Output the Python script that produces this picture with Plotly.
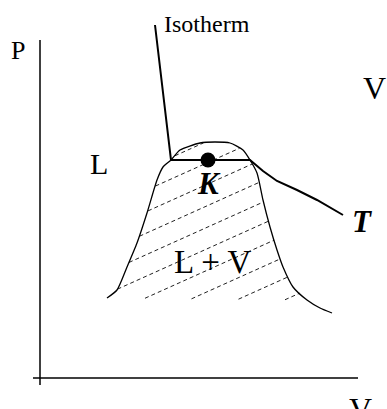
import numpy as np
import plotly.graph_objects as go

# ---- data (sketch units: V to the right, P upward, origin at axes crossing) ----
dome_v = [67, 77, 87, 97, 107, 117, 123, 131, 140, 160, 175, 190, 203, 210, 217, 223, 230, 237, 243, 253, 267, 280, 292]
dome_p = [80, 88, 111, 135, 165, 198, 211, 218, 228, 235, 236, 235, 228, 218, 205, 178, 151, 128, 111, 91, 78, 70, 65]

iso_v = [115, 131, 210, 223, 237, 257, 277, 303]
iso_p = [353, 218, 218, 207, 197, 188, 178, 163]

crit_v = [168]
crit_p = [218]

axis_v_x = [0, 0]
axis_v_y = [-7, 338]
axis_h_x = [-7, 318]
axis_h_y = [0, 0]

labels = ["P", "V", "L", "<b><i>K</i></b>", "L + V", "<b><i>T</i></b>", "V"]
label_v = [-22, 334, 59, 169, 172, 322, 320]
label_p = [328, 290, 215, 195, 116, 157, -31]
label_size = [26, 32, 30, 31, 33, 31, 32]

iso_label = "Isotherm"
iso_label_v = 122
iso_label_p = 354

hatch_slope = 0.45
hatch_spacing = 21.5
hatch_base = 54.0

# ---- hatching clipped to dome region ----
poly_x = np.array(dome_v[:-2] + [dome_v[0]], dtype=float)
poly_y = np.array(dome_p[:-2] + [dome_p[0]], dtype=float)


def inside(px, py):
    res = np.zeros_like(px, dtype=bool)
    n = len(poly_x) - 1
    for i in range(n):
        x1, y1, x2, y2 = poly_x[i], poly_y[i], poly_x[i + 1], poly_y[i + 1]
        cond = (y1 > py) != (y2 > py)
        with np.errstate(divide="ignore", invalid="ignore"):
            xint = x1 + (py - y1) * (x2 - x1) / (y2 - y1)
        res ^= cond & (px < xint)
    return res


hx, hy = [], []
xs = np.arange(40, 300, 0.5)
for k in range(-6, 12):
    c = hatch_base + hatch_spacing * k
    ys = hatch_slope * xs + c
    ins = inside(xs, ys)
    seg = False
    for x, y, f in zip(xs, ys, ins):
        if f:
            hx.append(x)
            hy.append(y)
            seg = True
        elif seg:
            hx.append(None)
            hy.append(None)
            seg = False
    if seg:
        hx.append(None)
        hy.append(None)

fig = go.Figure()
fig.add_trace(go.Scatter(x=hx, y=hy, mode="lines",
                         line=dict(color="#222", width=1.0, dash="4px,3px"), hoverinfo="skip"))
fig.add_trace(go.Scatter(x=dome_v, y=dome_p, mode="lines",
                         line=dict(color="black", width=1.3, shape="spline", smoothing=0.6), hoverinfo="skip"))
fig.add_trace(go.Scatter(x=iso_v, y=iso_p, mode="lines",
                         line=dict(color="black", width=2, shape="linear"), hoverinfo="skip"))
fig.add_trace(go.Scatter(x=axis_v_x, y=axis_v_y, mode="lines",
                         line=dict(color="black", width=1.5), hoverinfo="skip"))
fig.add_trace(go.Scatter(x=axis_h_x, y=axis_h_y, mode="lines",
                         line=dict(color="black", width=1.5), hoverinfo="skip"))
fig.add_trace(go.Scatter(x=crit_v, y=crit_p, mode="markers",
                         marker=dict(color="black", size=15), hoverinfo="skip"))

annotations = []
for t, x, y, s in zip(labels, label_v, label_p, label_size):
    annotations.append(dict(x=x, y=y, xref="x", yref="y", text=t, showarrow=False,
                            font=dict(family="Liberation Serif", size=s, color="black"),
                            xanchor="center", yanchor="middle"))
annotations.append(dict(x=iso_label_v, y=iso_label_p, xref="x", yref="y", text=iso_label,
                        showarrow=False, font=dict(family="Liberation Serif", size=24, color="black"),
                        xanchor="left", yanchor="middle"))

fig.update_layout(
    width=387, height=409,
    margin=dict(l=0, r=0, t=0, b=0),
    paper_bgcolor="white", plot_bgcolor="white",
    showlegend=False,
    xaxis=dict(range=[-40, 347], visible=False, fixedrange=True),
    yaxis=dict(range=[-31, 378], visible=False, fixedrange=True),
    annotations=annotations,
)

fig.write_html(
    "out.html",
    config={"displayModeBar": False},
    post_script="document.body.style.margin='0';document.body.style.overflow='hidden';",
)
